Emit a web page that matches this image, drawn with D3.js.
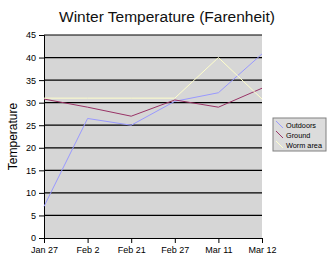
<!DOCTYPE html>
<html>
<head>
<meta charset="utf-8">
<script src="https://cdn.jsdelivr.net/npm/d3@7"></script>
<style>
  body { margin: 0; background: #fff; }
  text { font-family: "Liberation Sans", Arial, sans-serif; }
</style>
</head>
<body>
<script>
var w = 334;
var h = 263;

var dates = ["Jan 27", "Feb 2", "Feb 21", "Feb 27", "Mar 11", "Mar 12"];
var outdoors = [7, 26.5, 25, 30.3, 32.2, 40.8];
var ground = [30.8, 29, 27, 30.6, 29, 33.2];
var wormArea = [31, 31, 31, 31, 40, 30.8];
var yTicks = [0, 5, 10, 15, 20, 25, 30, 35, 40, 45];

var seriesNames = ["Outdoors", "Ground", "Worm area"];
var seriesColors = ["#9999ff", "#993366", "#ffffcc"];
var seriesData = [outdoors, ground, wormArea];

var margin = { left: 44, right: 72, top: 35, bottom: 25 };

var svg = d3.select("body")
  .append("svg")
  .attr("width", w)
  .attr("height", h);

var x = d3.scalePoint()
  .domain(dates)
  .range([margin.left, w - margin.right]);

var y = d3.scaleLinear()
  .domain([0, 45])
  .range([h - margin.bottom, margin.top]);

// plot background
svg.append("rect")
  .attr("x", margin.left)
  .attr("y", margin.top)
  .attr("width", w - margin.right - margin.left)
  .attr("height", h - margin.bottom - margin.top)
  .attr("fill", "#d6d6d6");

// horizontal grid lines
svg.selectAll("line.grid")
  .data(yTicks.slice(1))
  .enter()
  .append("line")
  .attr("class", "grid")
  .attr("x1", margin.left)
  .attr("x2", w - margin.right)
  .attr("y1", function (d) { return y(d); })
  .attr("y2", function (d) { return y(d); })
  .attr("stroke", "#000")
  .attr("stroke-width", 1.2);

// y axis
var yAxis = svg.append("g")
  .attr("transform", "translate(" + margin.left + ",0)")
  .call(d3.axisLeft(y).tickValues(yTicks).tickSize(5).tickPadding(3));

// x axis
var xAxis = svg.append("g")
  .attr("transform", "translate(0," + (h - margin.bottom) + ")")
  .call(d3.axisBottom(x).tickSize(5).tickPadding(4));

[yAxis, xAxis].forEach(function (g) {
  g.select(".domain").attr("stroke", "#000");
  g.selectAll(".tick line").attr("stroke", "#000");
  g.selectAll("text")
    .attr("fill", "#000")
    .style("font-size", "9px")
    .style("font-family", "'Liberation Sans', Arial, sans-serif");
});

// series lines
var line = d3.line()
  .x(function (d, i) { return x(dates[i]); })
  .y(function (d) { return y(d); });

svg.selectAll("path.series")
  .data(seriesData)
  .enter()
  .append("path")
  .attr("class", "series")
  .attr("d", line)
  .attr("fill", "none")
  .attr("stroke", function (d, i) { return seriesColors[i]; })
  .attr("stroke-width", 1);

// title
svg.append("text")
  .attr("x", 167)
  .attr("y", 22)
  .attr("text-anchor", "middle")
  .style("font-size", "15.5px")
  .style("fill", "#111")
  .text("Winter Temperature (Farenheit)");

// y axis title
svg.append("text")
  .attr("transform", "translate(17," + ((margin.top + h - margin.bottom) / 2) + ") rotate(-90)")
  .attr("text-anchor", "middle")
  .style("font-size", "12px")
  .text("Temperature");

// legend
var legend = svg.append("g")
  .attr("transform", "translate(273,118)");

legend.append("rect")
  .attr("width", 53)
  .attr("height", 33)
  .attr("fill", "#dcdcdc")
  .attr("stroke", "#808080");

var items = legend.selectAll("g.item")
  .data(seriesNames)
  .enter()
  .append("g")
  .attr("class", "item")
  .attr("transform", function (d, i) { return "translate(3," + (3 + i * 10) + ")"; });

items.append("line")
  .attr("x1", 0).attr("y1", 0)
  .attr("x2", 7).attr("y2", 7)
  .attr("stroke", function (d, i) { return seriesColors[i]; });

items.append("text")
  .attr("x", 10)
  .attr("y", 7)
  .attr("fill", "#000")
  .style("font-size", "7.3px")
  .text(function (d) { return d; });
</script>
</body>
</html>
